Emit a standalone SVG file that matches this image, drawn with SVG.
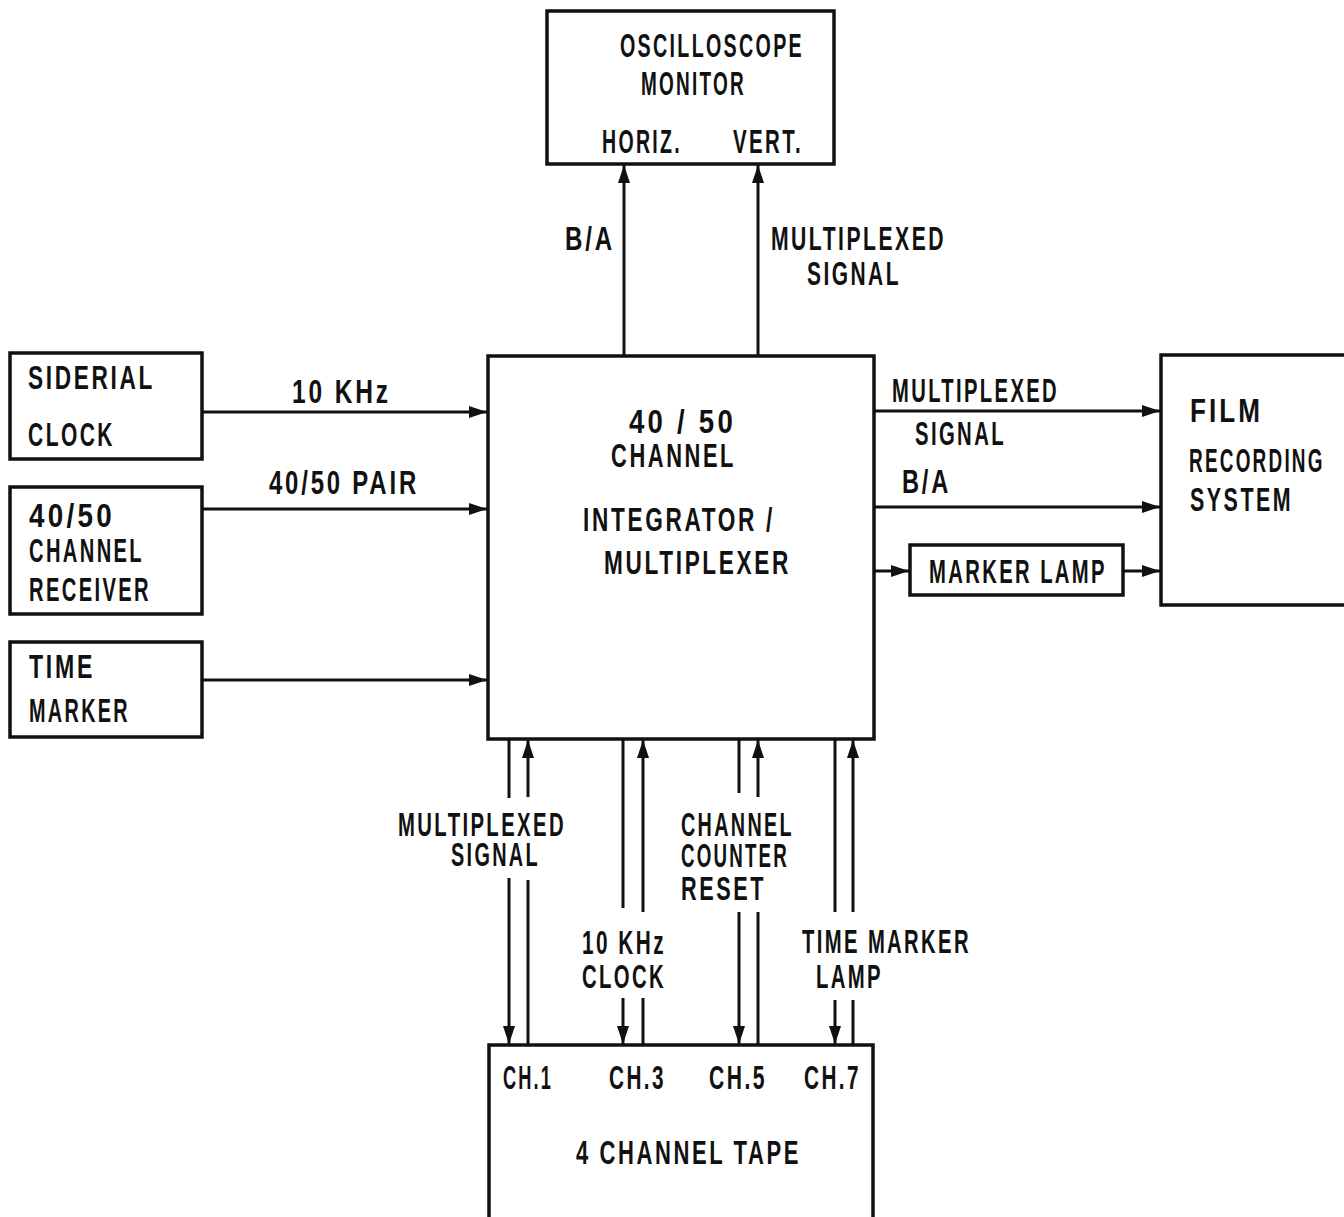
<svg xmlns="http://www.w3.org/2000/svg" width="1344" height="1217" viewBox="0 0 1344 1217">
<style>
.bx{fill:none;stroke:#111;stroke-width:3.5}
.ln{fill:none;stroke:#111;stroke-width:3}
text{font-family:"Liberation Sans","DejaVu Sans",sans-serif;font-weight:bold;font-size:34px;letter-spacing:4px;fill:#111}
</style>
<defs>
<marker id="ah" markerUnits="userSpaceOnUse" markerWidth="20" markerHeight="14" refX="18" refY="6" orient="auto">
<path d="M0,0 L18,6 L0,12 z" fill="#111"/>
</marker>
</defs>
<rect width="1344" height="1217" fill="#fff"/>
<g id="osc">
<rect class="bx" x="547" y="11" width="287" height="153"/>
<text x="620" y="57" textLength="184" lengthAdjust="spacingAndGlyphs">OSCILLOSCOPE</text>
<text x="641" y="95" textLength="105" lengthAdjust="spacingAndGlyphs">MONITOR</text>
<text x="602" y="153" textLength="80" lengthAdjust="spacingAndGlyphs">HORIZ.</text>
<text x="733" y="153" textLength="70" lengthAdjust="spacingAndGlyphs">VERT.</text>
</g>
<g id="integrator">
<rect class="bx" x="488" y="356" width="386" height="383"/>
<text x="629" y="433" textLength="107" lengthAdjust="spacingAndGlyphs">40 / 50</text>
<text x="611" y="467" textLength="125" lengthAdjust="spacingAndGlyphs">CHANNEL</text>
<text x="583" y="531" textLength="192" lengthAdjust="spacingAndGlyphs">INTEGRATOR /</text>
<text x="604" y="574" textLength="187" lengthAdjust="spacingAndGlyphs">MULTIPLEXER</text>
</g>
<g id="siderial">
<rect class="bx" x="10" y="353" width="192" height="106"/>
<text x="28" y="389" textLength="127" lengthAdjust="spacingAndGlyphs">SIDERIAL</text>
<text x="28" y="446" textLength="87" lengthAdjust="spacingAndGlyphs">CLOCK</text>
</g>
<g id="receiver">
<rect class="bx" x="10" y="487" width="192" height="127"/>
<text x="29" y="527" textLength="86" lengthAdjust="spacingAndGlyphs">40/50</text>
<text x="29" y="562" textLength="115" lengthAdjust="spacingAndGlyphs">CHANNEL</text>
<text x="29" y="601" textLength="122" lengthAdjust="spacingAndGlyphs">RECEIVER</text>
</g>
<g id="timemarker">
<rect class="bx" x="10" y="642" width="192" height="95"/>
<text x="29" y="678" textLength="66" lengthAdjust="spacingAndGlyphs">TIME</text>
<text x="29" y="722" textLength="101" lengthAdjust="spacingAndGlyphs">MARKER</text>
</g>
<g id="film">
<rect class="bx" x="1161" y="355" width="200" height="250"/>
<text x="1190" y="422" textLength="73" lengthAdjust="spacingAndGlyphs">FILM</text>
<text transform="translate(1189,472) scale(0.557,1)" x="0" y="0">RECORDING</text>
<text transform="translate(1190,511) scale(0.63,1)" x="0" y="0">SYSTEM</text>
</g>
<g id="markerlamp">
<rect class="bx" x="910" y="545" width="213" height="50"/>
<text x="929" y="583" textLength="178" lengthAdjust="spacingAndGlyphs">MARKER LAMP</text>
</g>
<g id="tape">
<rect class="bx" x="489" y="1045" width="384" height="190"/>
<text x="503" y="1089" textLength="50" lengthAdjust="spacingAndGlyphs">CH.1</text>
<text x="609" y="1089" textLength="57" lengthAdjust="spacingAndGlyphs">CH.3</text>
<text x="709" y="1089" textLength="58" lengthAdjust="spacingAndGlyphs">CH.5</text>
<text x="804" y="1089" textLength="57" lengthAdjust="spacingAndGlyphs">CH.7</text>
<text x="576" y="1164" textLength="225" lengthAdjust="spacingAndGlyphs">4 CHANNEL TAPE</text>
</g>
<g id="connectors">
<line class="ln" x1="624" y1="356" x2="624" y2="165" marker-end="url(#ah)"/>
<line class="ln" x1="758" y1="356" x2="758" y2="165" marker-end="url(#ah)"/>
<line class="ln" x1="202" y1="412" x2="487" y2="412" marker-end="url(#ah)"/>
<line class="ln" x1="202" y1="509" x2="487" y2="509" marker-end="url(#ah)"/>
<line class="ln" x1="202" y1="680" x2="487" y2="680" marker-end="url(#ah)"/>
<line class="ln" x1="874" y1="411" x2="1160" y2="411" marker-end="url(#ah)"/>
<line class="ln" x1="874" y1="507" x2="1160" y2="507" marker-end="url(#ah)"/>
<line class="ln" x1="874" y1="571" x2="909" y2="571" marker-end="url(#ah)"/>
<line class="ln" x1="1123" y1="571" x2="1160" y2="571" marker-end="url(#ah)"/>
<line class="ln" x1="509" y1="739" x2="509" y2="798"/>
<line class="ln" x1="509" y1="878" x2="509" y2="1044" marker-end="url(#ah)"/>
<line class="ln" x1="528" y1="797" x2="528" y2="740" marker-end="url(#ah)"/>
<line class="ln" x1="528" y1="880" x2="528" y2="1045"/>
<line class="ln" x1="623" y1="739" x2="623" y2="908"/>
<line class="ln" x1="623" y1="998" x2="623" y2="1044" marker-end="url(#ah)"/>
<line class="ln" x1="643" y1="912" x2="643" y2="740" marker-end="url(#ah)"/>
<line class="ln" x1="643" y1="998" x2="643" y2="1045"/>
<line class="ln" x1="739" y1="739" x2="739" y2="793"/>
<line class="ln" x1="739" y1="912" x2="739" y2="1044" marker-end="url(#ah)"/>
<line class="ln" x1="758" y1="797" x2="758" y2="740" marker-end="url(#ah)"/>
<line class="ln" x1="758" y1="912" x2="758" y2="1045"/>
<line class="ln" x1="835" y1="739" x2="835" y2="912"/>
<line class="ln" x1="835" y1="1000" x2="835" y2="1044" marker-end="url(#ah)"/>
<line class="ln" x1="853" y1="912" x2="853" y2="740" marker-end="url(#ah)"/>
<line class="ln" x1="853" y1="1000" x2="853" y2="1045"/>
</g>
<g id="labels">
<text x="565" y="250" textLength="50" lengthAdjust="spacingAndGlyphs">B/A</text>
<text x="771" y="250" textLength="175" lengthAdjust="spacingAndGlyphs">MULTIPLEXED</text>
<text x="807" y="285" textLength="94" lengthAdjust="spacingAndGlyphs">SIGNAL</text>
<text x="292" y="403" textLength="99" lengthAdjust="spacingAndGlyphs">10 KHz</text>
<text x="269" y="494" textLength="150" lengthAdjust="spacingAndGlyphs">40/50 PAIR</text>
<text x="892" y="402" textLength="167" lengthAdjust="spacingAndGlyphs">MULTIPLEXED</text>
<text x="915" y="445" textLength="91" lengthAdjust="spacingAndGlyphs">SIGNAL</text>
<text x="902" y="493" textLength="49" lengthAdjust="spacingAndGlyphs">B/A</text>
<text x="398" y="836" textLength="168" lengthAdjust="spacingAndGlyphs">MULTIPLEXED</text>
<text x="451" y="866" textLength="89" lengthAdjust="spacingAndGlyphs">SIGNAL</text>
<text x="681" y="836" textLength="113" lengthAdjust="spacingAndGlyphs">CHANNEL</text>
<text x="681" y="867" textLength="108" lengthAdjust="spacingAndGlyphs">COUNTER</text>
<text x="681" y="900" textLength="85" lengthAdjust="spacingAndGlyphs">RESET</text>
<text x="582" y="954" textLength="84" lengthAdjust="spacingAndGlyphs">10 KHz</text>
<text x="582" y="988" textLength="84" lengthAdjust="spacingAndGlyphs">CLOCK</text>
<text x="802" y="953" textLength="169" lengthAdjust="spacingAndGlyphs">TIME MARKER</text>
<text x="816" y="988" textLength="67" lengthAdjust="spacingAndGlyphs">LAMP</text>
</g>
</svg>
